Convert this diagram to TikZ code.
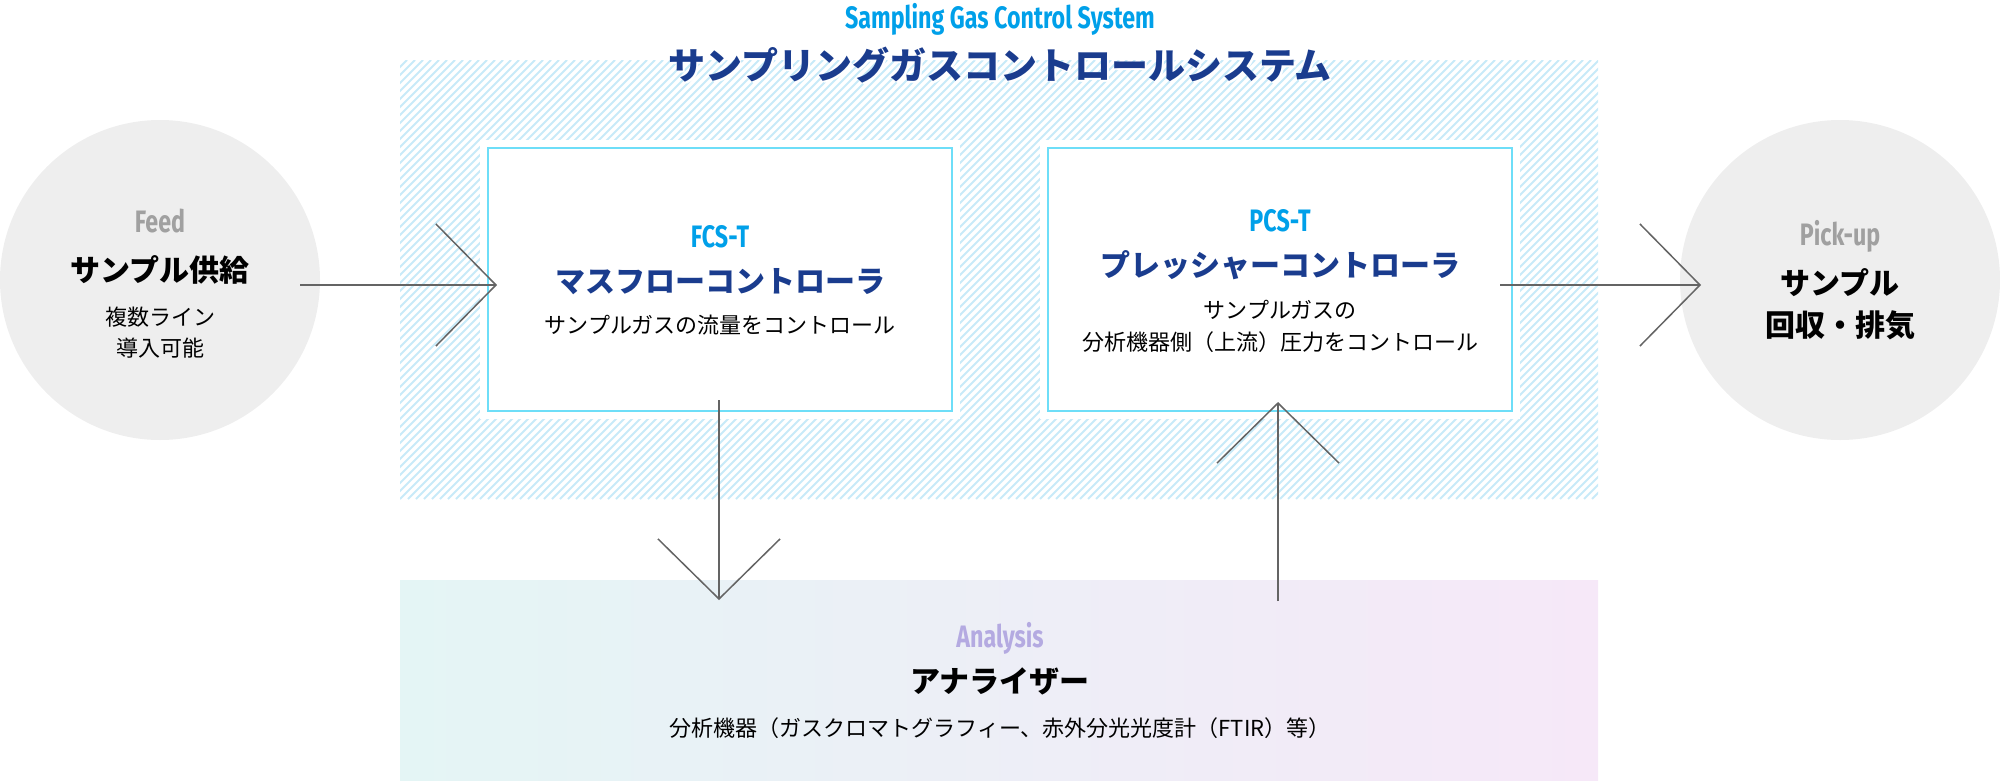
\documentclass[tikz,border=0pt]{standalone}
\usepackage{fontspec}
\setmainfont{Noto Sans CJK JP}
\newfontfamily\jp{Noto Sans CJK JP}
\newfontfamily\lab{Fira Sans}[FakeStretch=0.75]
\usetikzlibrary{arrows.meta,calc}
\definecolor{cyanlab}{RGB}{0,160,233}
\definecolor{navy}{RGB}{26,60,142}
\definecolor{boxline}{RGB}{110,222,248}
\definecolor{hatchc}{RGB}{200,234,248}
\definecolor{circ}{RGB}{238,238,238}
\definecolor{arrowc}{RGB}{100,100,100}
\definecolor{graylab}{RGB}{160,160,160}
\definecolor{lavlab}{RGB}{180,170,225}
\definecolor{gradl}{RGB}{228,245,245}
\definecolor{gradr}{RGB}{246,232,248}
\begin{document}
\begin{tikzpicture}[x=1pt,y=-1pt,
  every node/.style={inner sep=0pt, outer sep=0pt},
  latin/.style={font={\fontsize{31pt}{36pt}\selectfont\lab\bfseries}, anchor=base},
  jptitle/.style={font={\fontsize{37pt}{44pt}\selectfont\jp\bfseries}, text=navy},
  jpboxtitle/.style={font={\fontsize{30pt}{36pt}\selectfont\jp\bfseries}, text=navy},
  jpbold/.style={font={\fontsize{30pt}{36pt}\selectfont\jp\bfseries}, text=black},
  jpdesc/.style={font={\fontsize{22pt}{26pt}\selectfont\jp}, text=black},
  ctrlbox/.style={draw=boxline, line width=2pt, fill=white, minimum width=464pt, minimum height=263pt},
  endcirc/.style={circle, fill=circ, minimum size=320pt},
  conn/.style={draw=arrowc, line width=1.5pt, -{Straight Barb[length=60pt,width=122pt]}}]
\useasboundingbox (0,0) rectangle (2000,780);

% circles
\node[endcirc] (feed) at (160,280) {};
\node[endcirc] (pickup) at (1840,280) {};

% hatched system area
\begin{scope}
\clip (400,60) rectangle (1598,499);
\foreach \i in {-40,-32,...,1600} {
  \draw[hatchc, line width=1.9pt] (\i,499) -- ++(439,-439);
}
\end{scope}

% analysis area
\shade[left color=gradl, right color=gradr] (400,580) rectangle (1598,780);
\node[minimum width=1198pt, minimum height=200pt] (analysis) at (999,680) {};

% white pads and boxes
\fill[white] (480,140) rectangle (960,419);
\fill[white] (1040,140) rectangle (1520,419);
\node[ctrlbox] (fcs) at (720,279.5) {};
\node[ctrlbox] (pcs) at (1280,279.5) {};

% headings
\node[latin, text=cyanlab] (syslab) at (1000,28) {Sampling Gas Control System};
\node[jptitle, text=white] (systitleshadow) at (1002,67) {サンプリングガスコントロールシステム};
\node[jptitle] (systitle) at (1000,65) {サンプリングガスコントロールシステム};

% feed texts
\node[latin, text=graylab] (feedlab) at (160,232) {Feed};
\node[jpbold] (feedtitle) at (160,270) {サンプル供給};
\node[jpdesc] (feeddesc1) at (160,317) {複数ライン};
\node[jpdesc] (feeddesc2) at (160,348) {導入可能};

% FCS texts
\node[latin, text=cyanlab] (fcslab) at (720,247) {FCS-T};
\node[jpboxtitle] (fcstitle) at (720,282) {マスフローコントローラ};
\node[jpdesc] (fcsdesc) at (720,325) {サンプルガスの流量をコントロール};

% PCS texts
\node[latin, text=cyanlab] (pcslab) at (1280,231) {PCS-T};
\node[jpboxtitle] (pcstitle) at (1280,265) {プレッシャーコントローラ};
\node[jpdesc] (pcsdesc1) at (1280,310) {サンプルガスの};
\node[jpdesc] (pcsdesc2) at (1280,342) {分析機器側（上流）圧力をコントロール};

% pick-up texts
\node[latin, text=graylab] (picklab) at (1840,245) {Pick-up};
\node[jpbold] (picktitle1) at (1840,283) {サンプル};
\node[jpbold] (picktitle2) at (1840,325) {回収・排気};

% analysis texts
\node[latin, text=lavlab] (analab) at (1000,647) {Analysis};
\node[jpbold] (anatitle) at (1000,681) {アナライザー};
\node[jpdesc] (anadesc) at (1000,728) {分析機器（ガスクロマトグラフィー、赤外分光光度計（FTIR）等）};

% connectors
\coordinate (feedout) at (300,285);
\coordinate (fcsin) at (497,285);
\coordinate (fcsout) at (719,400);
\coordinate (anain) at (719,600);
\coordinate (anaout) at (1278,601);
\coordinate (pcsin) at (1278,402);
\coordinate (pcsout) at (1500,285);
\coordinate (pickin) at (1701,285);
\draw[conn] (feedout) -- (fcsin);
\draw[conn] (fcsout) -- (anain);
\draw[conn] (anaout) -- (pcsin);
\draw[conn] (pcsout) -- (pickin);
\end{tikzpicture}
\end{document}
